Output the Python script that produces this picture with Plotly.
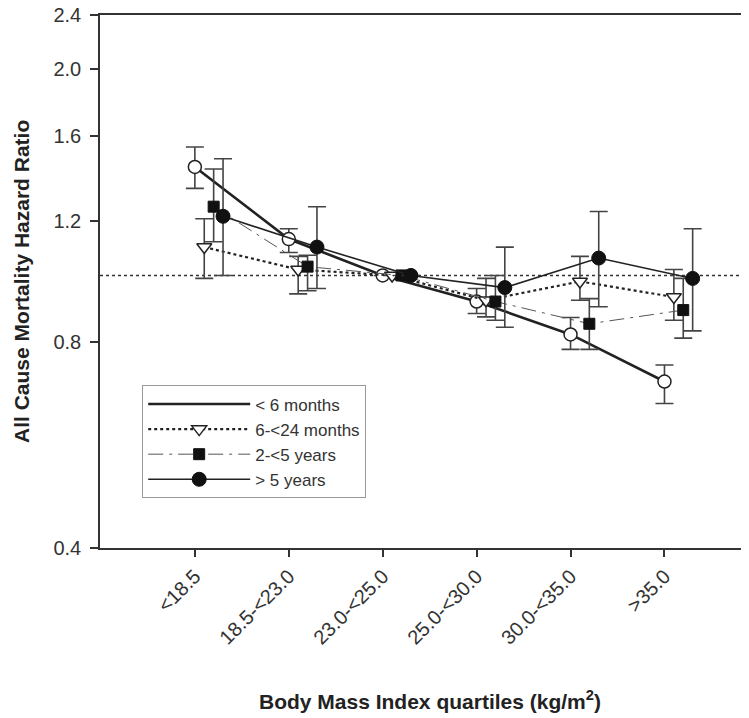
import math
import plotly.graph_objects as go

categories = ["<18.5", "18.5-<23.0", "23.0-<25.0", "25.0-<30.0", "30.0-<35.0", ">35.0"]
series_names = ["< 6 months", "6-<24 months", "2-<5 years", "> 5 years"]
offsets = [0.0, 0.1, 0.2, 0.3]

hr_lt6m = [1.44, 1.13, 1.00, 0.916, 0.82, 0.70]
hi_lt6m = [1.54, 1.17, 1.00, 0.957, 0.868, 0.74]
lo_lt6m = [1.34, 1.08, 1.00, 0.88, 0.78, 0.65]

hr_6_24m = [1.10, 1.02, 1.00, 0.92, 0.98, 0.93]
hi_6_24m = [1.21, 1.066, 1.00, 0.99, 1.066, 1.02]
lo_6_24m = [0.99, 0.94, 1.00, 0.87, 0.92, 0.86]

hr_2_5y = [1.26, 1.03, 1.00, 0.916, 0.85, 0.89]
hi_2_5y = [1.43, 1.07, 1.00, 1.00, 0.925, 0.99]
lo_2_5y = [1.12, 0.95, 1.00, 0.86, 0.78, 0.81]

hr_gt5y = [1.22, 1.10, 1.00, 0.96, 1.06, 0.99]
hi_gt5y = [1.48, 1.26, 1.00, 1.10, 1.24, 1.17]
lo_gt5y = [1.00, 0.957, 1.00, 0.84, 0.90, 0.83]

ytick_vals = [0.4, 0.8, 1.2, 1.6, 2.0, 2.4]
ytick_text = ["0.4", "0.8", "1.2", "1.6", "2.0", "2.4"]

FONT = "Liberation Sans, Arial, sans-serif"
INK = "#222222"
ERR = "#444444"

data = [
    (hr_lt6m, hi_lt6m, lo_lt6m),
    (hr_6_24m, hi_6_24m, lo_6_24m),
    (hr_2_5y, hi_2_5y, lo_2_5y),
    (hr_gt5y, hi_gt5y, lo_gt5y),
]
line_styles = [
    dict(color=INK, width=2.6, dash="solid"),
    dict(color=INK, width=2.2, dash="dot"),
    dict(color="#555555", width=1, dash="longdashdot"),
    dict(color=INK, width=1.6, dash="solid"),
]
markers = [
    dict(symbol="circle", size=13, color="white", line=dict(color=INK, width=1.5)),
    dict(symbol="triangle-down", size=13, color="white", line=dict(color=INK, width=1.5)),
    dict(symbol="square", size=11, color="#111111", line=dict(color="#111111", width=1)),
    dict(symbol="circle", size=14, color="#111111", line=dict(color="#111111", width=1)),
]

fig = go.Figure()
for i, (name, (hr, hi, lo)) in enumerate(zip(series_names, data)):
    xs = [k + offsets[i] for k in range(len(categories))]
    fig.add_trace(go.Scatter(
        x=xs, y=hr, mode="lines+markers", name=name,
        line=line_styles[i], marker=markers[i],
        error_y=dict(type="data", symmetric=False,
                     array=[h - v for h, v in zip(hi, hr)],
                     arrayminus=[v - l for v, l in zip(hr, lo)],
                     color=ERR, thickness=1.6, width=9),
        showlegend=(i != 0),
        legendrank=i + 1,
    ))

# legend entry for "< 6 months" shows only the line
fig.add_trace(go.Scatter(x=[None], y=[None], mode="lines", name=series_names[0],
                         line=line_styles[0], showlegend=True, legendrank=0))

fig.add_shape(type="line", xref="paper", yref="y", x0=0, x1=1, y0=1.0, y1=1.0,
              line=dict(color="#333333", width=1.5, dash="dot"), layer="below")

# axis titles
fig.add_annotation(text="<b>Body Mass Index quartiles (kg/m<sup>2</sup>)</b>",
                   xref="paper", yref="paper", x=0.508, y=-0.285,
                   xanchor="center", yanchor="middle", showarrow=False,
                   font=dict(size=21, color="#222222", family=FONT))
fig.add_annotation(text="<b>All Cause Mortality Hazard Ratio</b>",
                   xref="paper", yref="paper", x=-0.121, y=0.5, textangle=-90,
                   xanchor="center", yanchor="middle", showarrow=False,
                   font=dict(size=21, color="#222222", family=FONT))

# page body has an 8px default margin, so the plot area is offset accordingly
fig.update_layout(
    width=749, height=718,
    margin=dict(l=92, r=8, t=7, b=178, autoexpand=False),
    paper_bgcolor="white", plot_bgcolor="white",
    font=dict(family=FONT, color="#333333"),
    showlegend=True,
    legend=dict(x=0.065, y=0.305, xanchor="left", yanchor="top",
                bordercolor="#999999", borderwidth=1, bgcolor="white",
                font=dict(size=17, color="#333333"), itemwidth=102,
                entrywidth=245, entrywidthmode="pixels",
                tracegroupgap=0, traceorder="normal"),
    xaxis=dict(
        range=[-1.01, 5.9], tickmode="array",
        tickvals=list(range(len(categories))), ticktext=categories,
        tickangle=-45, tickfont=dict(size=20, color="#333333"),
        ticks="outside", ticklen=7, tickwidth=1.5, tickcolor="#333333",
        showline=True, linecolor="#333333", linewidth=1.5, mirror=True,
        showgrid=False, zeroline=False, automargin=False,
        ticklabeloverflow="allow",
    ),
    yaxis=dict(
        type="log", range=[math.log10(0.4), math.log10(2.4)],
        tickmode="array", tickvals=ytick_vals, ticktext=ytick_text,
        tickfont=dict(size=20, color="#333333"),
        ticks="outside", ticklen=8, tickwidth=1.5, tickcolor="#333333",
        ticklabelstandoff=5, ticklabeloverflow="allow",
        showline=True, linecolor="#333333", linewidth=1.5, mirror=False,
        showgrid=False, zeroline=False, automargin=False,
    ),
)

fig.write_html("out.html")
